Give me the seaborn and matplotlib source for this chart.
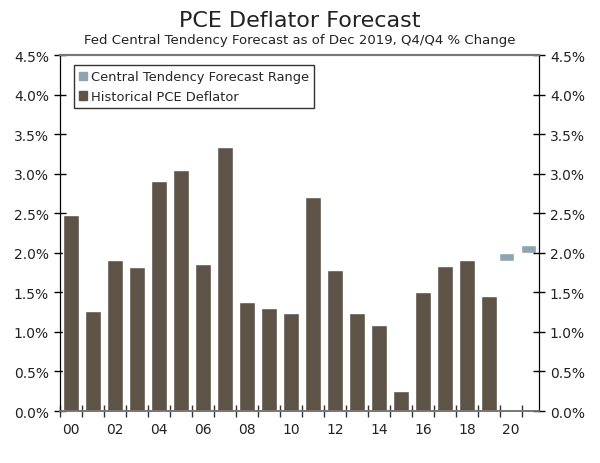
import numpy as np
import pandas as pd
import matplotlib
matplotlib.use("Agg")
import matplotlib.pyplot as plt
import seaborn as sns
from matplotlib.patches import Patch
from matplotlib.ticker import FixedLocator, PercentFormatter

# datos
years = list(range(2000, 2022))
pce_hist = [2.48, 1.26, 1.91, 1.82, 2.91, 3.05, 1.86, 3.34, 1.38, 1.30,
            1.24, 2.71, 1.78, 1.24, 1.09, 0.25, 1.50, 1.83, 1.91, 1.45,
            np.nan, np.nan]
fc_years = [2020, 2021]
fc_low = [1.9, 2.0]
fc_high = [2.0, 2.1]
tick_labels = [f"{y % 100:02d}" if y % 2 == 0 else "" for y in years]

df = pd.DataFrame({"year": [str(y) for y in years], "pce": pce_hist})

sns.set_style("white")
plt.rcParams["font.family"] = ["DejaVu Sans"]

bar_col = "#5e5347"
fc_col = "#8fa4b1"

fig = plt.figure(figsize=(6, 4.64), dpi=100)
ax = fig.add_axes([0.1, 0.112, 0.798, 0.767])

sns.barplot(data=df, x="year", y="pce", color=bar_col, width=0.73,
            saturation=1, ax=ax)
# el rango de pronostico va un poco corrido a la izquierda, como en el original
pos = [years.index(y) - 0.2 for y in fc_years]
ax.bar(pos, np.array(fc_high) - np.array(fc_low), bottom=fc_low,
       width=0.65, color=fc_col)

ax.set_xlim(-0.5, 21.27)
ax.set_ylim(0, 4.5)
ax.set_xlabel("")
ax.set_ylabel("")

ax.set_xticks(range(len(years)))
ax.set_xticklabels(tick_labels, fontsize=10, color="#222222")
ax.tick_params(axis="x", which="major", length=0, pad=8, bottom=True)
ax.xaxis.set_minor_locator(FixedLocator(np.arange(-0.5, 21.6, 1)))
ax.tick_params(axis="x", which="minor", length=8, width=1, direction="inout",
               color="#333333", bottom=True)

yt = np.arange(0, 4.6, 0.5)
ax.set_yticks(yt)
ax.yaxis.set_major_formatter(PercentFormatter(decimals=1))
ax.tick_params(axis="y", length=8, width=1, direction="inout", labelsize=10,
               labelcolor="#222222", pad=4, left=True, color="black")

ax2 = ax.twinx()
ax2.set_ylim(0, 4.5)
ax2.set_yticks(yt)
ax2.yaxis.set_major_formatter(PercentFormatter(decimals=1))
ax2.tick_params(axis="y", length=8, width=1, direction="inout", labelsize=10,
                labelcolor="#222222", pad=4, right=True, color="black")

for a in (ax, ax2):
    a.spines["top"].set_color("#777777")
    a.spines["top"].set_linewidth(1.5)
    a.spines["bottom"].set_color("#777777")
    a.spines["bottom"].set_linewidth(1.2)
    a.spines["left"].set_color("black")
    a.spines["right"].set_color("black")

handles = [Patch(color=fc_col, label="Central Tendency Forecast Range"),
           Patch(color=bar_col, label="Historical PCE Deflator")]
leg = ax.legend(handles=handles, loc="upper left", bbox_to_anchor=(0.015, 0.99),
                fontsize=9.4, frameon=True, fancybox=False, handlelength=0.6,
                handleheight=0.6, handletextpad=0.3, borderpad=0.4,
                labelspacing=0.5)
leg.get_frame().set_edgecolor("black")
leg.get_frame().set_linewidth(1)

fig.text(0.5, 0.955, "PCE Deflator Forecast", ha="center", va="center",
         fontsize=16, color="#222222")
fig.text(0.5, 0.912, "Fed Central Tendency Forecast as of Dec 2019, Q4/Q4 % Change",
         ha="center", va="center", fontsize=9.5, color="#222222")

fig.savefig("out.png", dpi=100)
